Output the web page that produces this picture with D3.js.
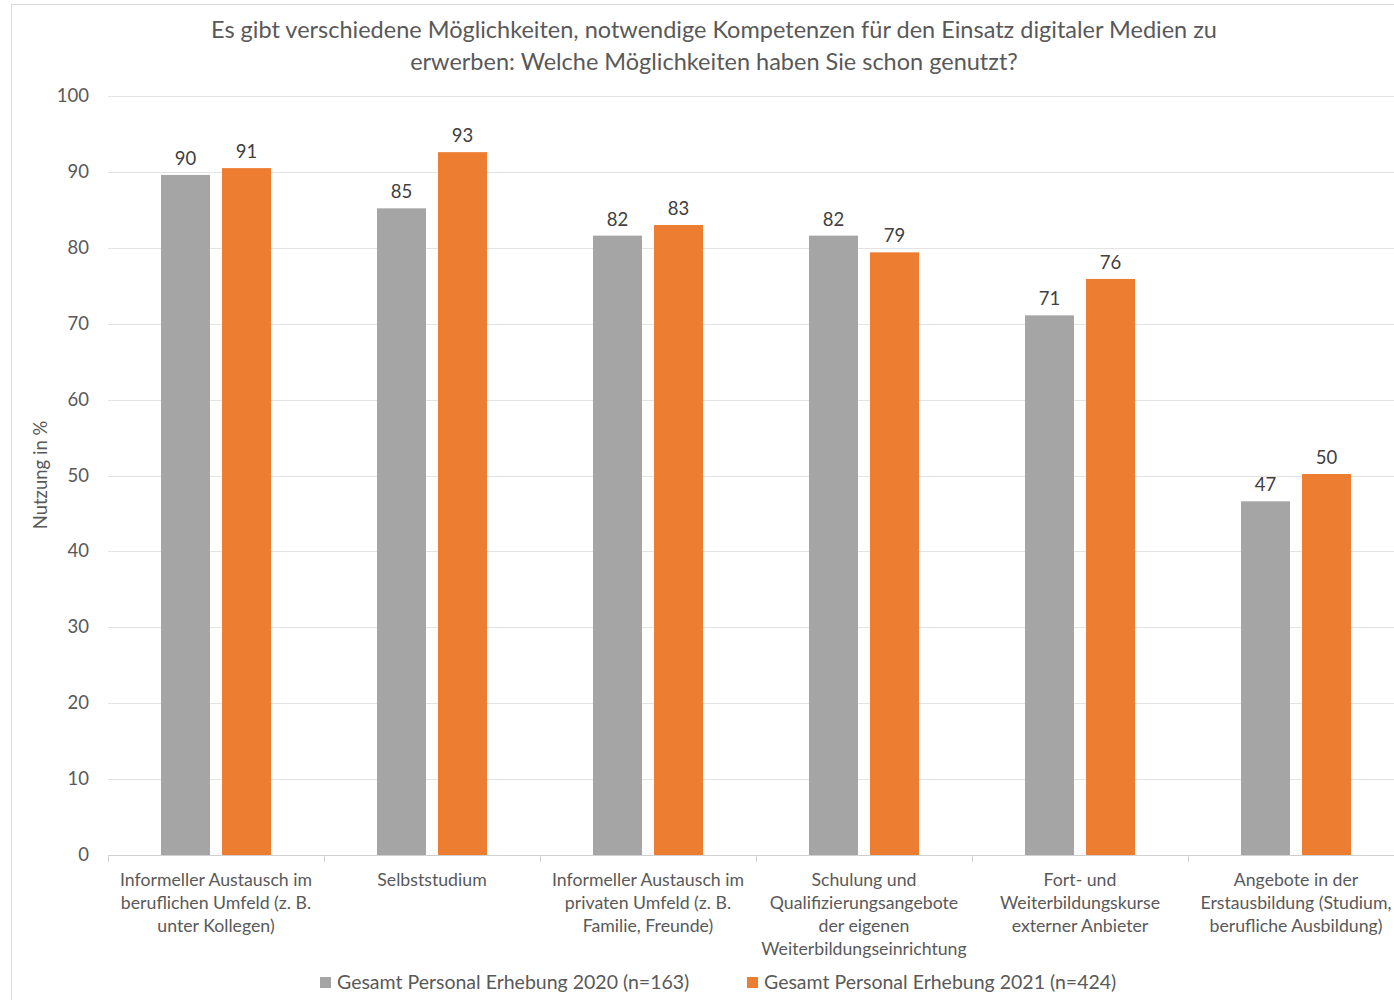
<!DOCTYPE html>
<html>
<head>
<meta charset="utf-8">
<script src="https://cdn.jsdelivr.net/npm/d3@7"></script>
<style>
  body { margin: 0; background: #fff; }
  text { font-family: Lato, "Open Sans", sans-serif; fill: #595959; }
</style>
</head>
<body>
<svg id="chart" width="1394" height="1000" viewBox="0 0 1394 1000"></svg>
<script>
// categories (x axis), each split into lines as in the picture
const categories = [
    ["Informeller Austausch im", "beruflichen Umfeld (z. B.", "unter Kollegen)"],
    ["Selbststudium"],
    ["Informeller Austausch im", "privaten Umfeld (z. B.", "Familie, Freunde)"],
    ["Schulung und", "Qualifizierungsangebote", "der eigenen", "Weiterbildungseinrichtung"],
    ["Fort- und", "Weiterbildungskurse", "externer Anbieter"],
    ["Angebote in der", "Erstausbildung (Studium,", "berufliche Ausbildung)"]
]
const series = ["Gesamt Personal Erhebung 2020 (n=163)", "Gesamt Personal Erhebung 2021 (n=424)"]
const values2020 = [89.6, 85.2, 81.6, 81.6, 71.1, 46.6]
const values2021 = [90.5, 92.6, 83.0, 79.4, 75.9, 50.2]
const yTicks = [0, 10, 20, 30, 40, 50, 60, 70, 80, 90, 100]
const colors = ["#a5a5a5", "#ed7d31"]

const svg = d3.select("#chart")

// outer frame (only top and left visible)
svg.append("line").attr("x1", 11).attr("x2", 1394).attr("y1", 4.5).attr("y2", 4.5)
    .attr("stroke", "#d9d9d9")
svg.append("line").attr("x1", 11.5).attr("x2", 11.5).attr("y1", 4).attr("y2", 1000)
    .attr("stroke", "#d9d9d9")

// title
const title = svg.append("text")
    .attr("text-anchor", "middle")
    .attr("font-size", 23.5)
title.append("tspan").attr("x", 714).attr("y", 38)
    .text("Es gibt verschiedene Möglichkeiten, notwendige Kompetenzen für den Einsatz digitaler Medien zu")
title.append("tspan").attr("x", 714).attr("y", 70)
    .text("erwerben: Welche Möglichkeiten haben Sie schon genutzt?")

const idx = categories.map((d, i) => i)

const x = d3.scaleBand()
    .domain(idx)
    .range([108, 1404])

const x1 = d3.scaleBand()
    .domain([0, 1])
    .range([53, 163])
    .paddingInner(0.197)

const y = d3.scaleLinear()
    .domain([0, 100])
    .range([855, 96])

// gridlines
svg.append("g")
    .selectAll("line")
    .data(yTicks.filter(d => d > 0))
    .enter()
    .append("line")
    .attr("x1", 108).attr("x2", 1394)
    .attr("y1", d => Math.round(y(d)) + 0.5)
    .attr("y2", d => Math.round(y(d)) + 0.5)
    .attr("stroke", "#e3e3e3")

// y tick labels
svg.append("g")
    .selectAll("text")
    .data(yTicks)
    .enter()
    .append("text")
    .attr("x", 89)
    .attr("y", d => y(d) + 6)
    .attr("text-anchor", "end")
    .attr("font-size", 18.5)
    .text(d => d)

// y axis title
svg.append("text")
    .attr("transform", "translate(47,475) rotate(-90)")
    .attr("text-anchor", "middle")
    .attr("font-size", 18.5)
    .text("Nutzung in %")

// bars
const data = idx.map(i => [values2020[i], values2021[i]])
const groups = svg.append("g")
    .selectAll("g")
    .data(data)
    .enter()
    .append("g")
    .attr("transform", (d, i) => `translate(${x(i)},0)`)

groups.selectAll("rect")
    .data(d => d)
    .enter()
    .append("rect")
    .attr("x", (d, j) => x1(j))
    .attr("width", x1.bandwidth())
    .attr("y", d => y(d))
    .attr("height", d => y(0) - y(d))
    .attr("fill", (d, j) => colors[j])

// value labels
groups.selectAll("text")
    .data(d => d)
    .enter()
    .append("text")
    .attr("x", (d, j) => x1(j) + x1.bandwidth() / 2)
    .attr("y", d => y(d) - 10)
    .attr("text-anchor", "middle")
    .attr("font-size", 18.5)
    .style("fill", "#404040")
    .text(d => Math.round(d))

// x axis baseline and ticks
svg.append("line")
    .attr("x1", 108).attr("x2", 1394)
    .attr("y1", 855.5).attr("y2", 855.5)
    .attr("stroke", "#d0d0d0")
svg.append("g")
    .selectAll("line")
    .data(idx.concat([6]))
    .enter()
    .append("line")
    .attr("x1", i => 108.5 + i * x.bandwidth())
    .attr("x2", i => 108.5 + i * x.bandwidth())
    .attr("y1", 855).attr("y2", 862)
    .attr("stroke", "#d0d0d0")

// category labels
const catLabels = svg.append("g")
    .selectAll("text")
    .data(categories)
    .enter()
    .append("text")
    .attr("text-anchor", "middle")
    .attr("font-size", 17.7)

catLabels.selectAll("tspan")
    .data((d, i) => d.map(line => ({line, i})))
    .enter()
    .append("tspan")
    .attr("x", d => x(d.i) + x.bandwidth() / 2)
    .attr("y", (d, k) => 886 + k * 23)
    .text(d => d.line)

// legend
const legendX = [320, 747]
const legend = svg.append("g")
    .selectAll("g")
    .data(series)
    .enter()
    .append("g")
    .attr("transform", (d, i) => `translate(${legendX[i]},977)`)
legend.append("rect")
    .attr("width", 11).attr("height", 11)
    .attr("fill", (d, i) => colors[i])
legend.append("text")
    .attr("x", 17).attr("y", 12)
    .attr("font-size", 19.5)
    .text(d => d)
</script>
</body>
</html>
